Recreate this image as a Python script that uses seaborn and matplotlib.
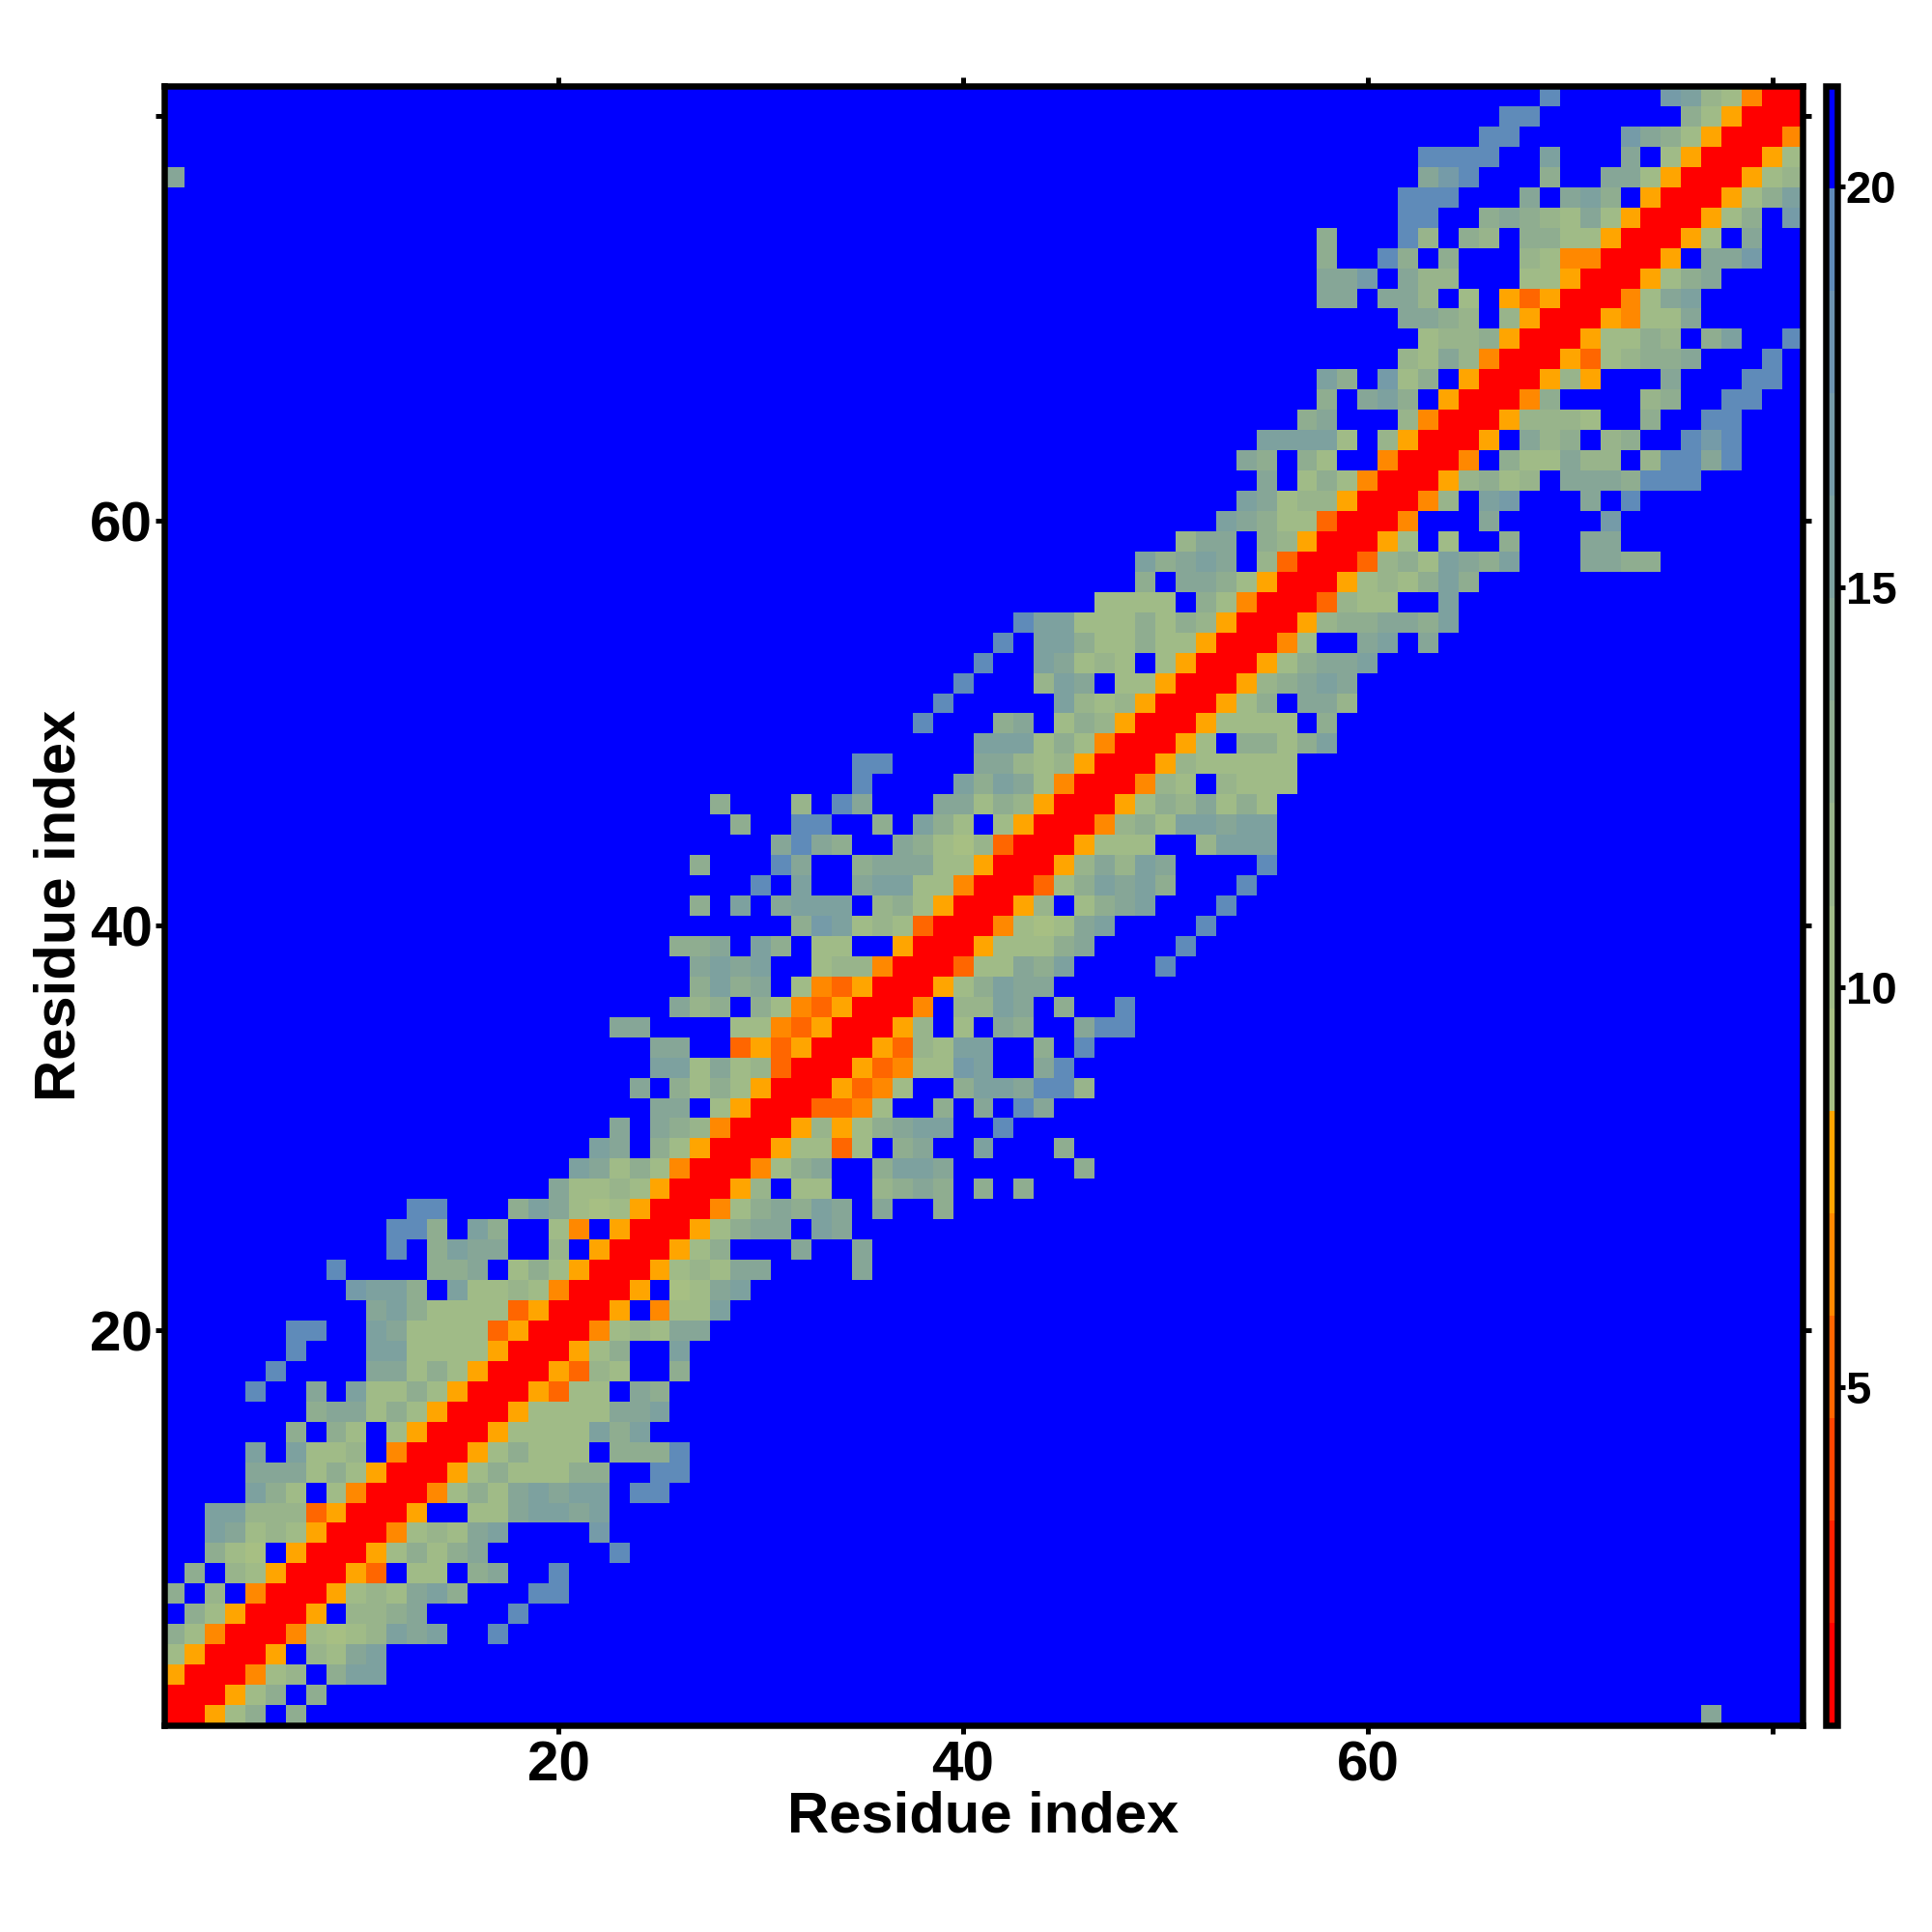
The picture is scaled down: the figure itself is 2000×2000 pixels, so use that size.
"""
plot.py

Residue-residue distance map (symmetric, 81 x 81) with a 16 level colour bar.
"""

import numpy as np
import pandas as pd
import matplotlib
matplotlib.use('Agg')
import matplotlib.pyplot as plt
from matplotlib.colors import ListedColormap
import seaborn as sns


N_RESIDUES = 81

# one letter per colour level, the distance is the middle of that level
LEVEL_CODES = ['R', 'o', 'm', 'y', 'A', 'B', 'C', 'D', 'E', 'F', 'G', 'H', '.']
LEVEL_DISTANCES = [1.42, 5.26, 6.54, 7.82, 9.10, 10.38, 11.66, 12.94,
                   14.22, 15.50, 16.78, 19.34, 20.62]

LEVEL_COLORS = ['#ff0000', '#ff2000', '#ff4500', '#ff6600', '#ff8800', '#ffa500',
                '#a7bf83', '#a0bb87', '#98b48b', '#8fad90', '#86a697', '#7da19f',
                '#759ba8', '#6c93b0', '#5f8bb9', '#0000ff']
VMIN = 0.78
VMAX = 21.26

# upper triangle only: each string starts on the diagonal of its row,
# everything after the end of a string is '.'
CONTACT_ROWS = [
    'RRyBD.D', 'RRyBD.D', 'RRmBC.DFF', 'RRy.CBEF', 'RRmBABCFEF..H',
    'RRy.CCDE....H', 'RRyBCBEFD...HH', 'RRyo.BB.DE..H', 'RRyBDBDE......H',
    'RRmBCBEF....G', 'RRy..BBEFFEF', 'RRmBDBEFEFF.HH', 'RRyBDBBBDD..HH',
    'RRyBDBBB.DDDH', 'RRyBBBBFDF', 'RRyBBBBEEF', 'RRyoBB.ED', 'RRyoCB..D',
    'RRyBD..F', 'RRmBCBEE', 'RRy.mBBF', 'RRy.ABEF', 'RRyBCBEE....E',
    'RRyBD...E..E', 'RRyBDEE.FE', 'RRmBDEDFE.E..D', 'RRyC.BB..CDED.D.D',
    'RRmBDE..DFFE......D', 'RRyBBoB.DE..F...D', 'RRyCyBDEFF..H',
    'RRoomB..D.E.HE', 'RRyomB..DFFEHHC', 'RRyomBBGF..EH', 'RRyoCBFF..D.H',
    'RRyC.B.ED..EHH', 'RRm.CCFE.D..H', 'RRyBDFEE', 'RRoBBEDF....H',
    'RRyBBBDE....H', 'RRmBABEF....H', 'RRyC.BDEF...H', 'RRoBDFEFD...H',
    'RRyCECFE....H', 'RRyBBB..CFFF', 'RRmCDBFFEFF', 'RRyBDCEBDB',
    'RRmCB.CBBB', 'RRyCBBBBB', 'RRyB.DDBDF', 'RRyBBBB.D', 'RRyBD.EEC',
    'RRyCDEFE', 'RRyBDEEF', 'RRmB..EF.E', 'RRyCDDEEDF', 'RRoCBB..F',
    'RRyBCBDFD', 'RRoCDBFEDF...EEDD', 'RRyB.B..D...EE', 'RRm...E.....G',
    'RRmC.FG...E.H', 'RRyCDBC.EEEDHHH', 'RRm.DBBECC.CHHEH', 'RRy.ECD.CD..HGH',
    'RRyCCCB..D..HH', 'RRmD....CD..HH', 'RRyCy...E...HH', 'RRyoBCDDE...H',
    'RRyBBDC.DF..H', 'RRymBBE', 'RRmBEF', 'RRyBDE', 'RRy.EEG', 'RRyB.E',
    'RRyBD.G', 'RRyBDF', 'RRyBC', 'RRyB', 'RRm', 'RR', 'R',
]
# the one contact far away from the diagonal
FAR_CONTACT_I = [1]
FAR_CONTACT_J = [77]
FAR_CONTACT_CODE = ['E']

AXIS_TICKS = [20, 40, 60, 80]
AXIS_TICK_LABELS = ['20', '40', '60', '']
CBAR_TICKS = [5, 10, 15, 20]

PX = 72 / 100  # one pixel in points at dpi=100


def build_matrix():
    dist = dict(zip(LEVEL_CODES, LEVEL_DISTANCES))
    mat = np.full((N_RESIDUES, N_RESIDUES), dist['.'])
    for i, row in enumerate(CONTACT_ROWS):
        for k, code in enumerate(row):
            mat[i, i + k] = dist[code]
            mat[i + k, i] = dist[code]
    for i, j, code in zip(FAR_CONTACT_I, FAR_CONTACT_J, FAR_CONTACT_CODE):
        mat[i - 1, j - 1] = dist[code]
        mat[j - 1, i - 1] = dist[code]
    labels = range(1, N_RESIDUES + 1)
    return pd.DataFrame(mat, index=labels, columns=labels)


def main():
    sns.set_theme(style='white')
    plt.rcParams['font.family'] = ['Liberation Sans', 'DejaVu Sans']
    plt.rcParams['font.weight'] = 'bold'

    df = build_matrix()

    fig = plt.figure(figsize=(20, 20), dpi=100)
    ax = fig.add_axes([170 / 2000, 1 - 1786 / 2000, 1696 / 2000, 1697 / 2000])
    cax = fig.add_axes([1890 / 2000, 1 - 1786 / 2000, 12 / 2000, 1697 / 2000])

    sns.heatmap(df, ax=ax, cbar_ax=cax, cmap=ListedColormap(LEVEL_COLORS),
                vmin=VMIN, vmax=VMAX, xticklabels=False, yticklabels=False,
                cbar_kws={'ticks': CBAR_TICKS})
    ax.invert_yaxis()  # residue 1 at the bottom

    ticks = [t - 0.5 for t in AXIS_TICKS]
    ax.set_xticks(ticks)
    ax.set_xticklabels(AXIS_TICK_LABELS, fontsize=42, fontweight='bold', rotation=0)
    ax.set_yticks(ticks)
    ax.set_yticklabels(AXIS_TICK_LABELS, fontsize=42, fontweight='bold', rotation=0)
    ax.tick_params(axis='both', which='major', direction='out', length=9 * PX,
                   width=5 * PX, color='black', labelcolor='black',
                   top=True, right=True, bottom=True, left=True)
    ax.tick_params(axis='x', pad=5)
    ax.tick_params(axis='y', pad=2.5)
    ax.set_xlabel('Residue index', fontsize=43, fontweight='bold', color='black', labelpad=-1.5)
    ax.set_ylabel('Residue index', fontsize=43, fontweight='bold', color='black', labelpad=2)
    for spine in ax.spines.values():
        spine.set_visible(True)
        spine.set_linewidth(6.5 * PX)
        spine.set_color('black')

    cbar = ax.collections[0].colorbar
    cbar.outline.set_visible(True)
    cbar.outline.set_linewidth(6.5 * PX)
    cbar.outline.set_edgecolor('black')
    cbar.set_ticklabels([str(t) for t in CBAR_TICKS])
    cax.tick_params(axis='y', which='both', right=True, left=False, direction='out',
                    length=8 * PX, width=5 * PX, color='black', labelsize=34,
                    labelcolor='black', pad=0.5)
    for lab in cax.get_yticklabels():
        lab.set_fontweight('bold')

    fig.savefig('out.png', dpi=100, facecolor='white')
    plt.close(fig)


if __name__ == '__main__':
    main()
